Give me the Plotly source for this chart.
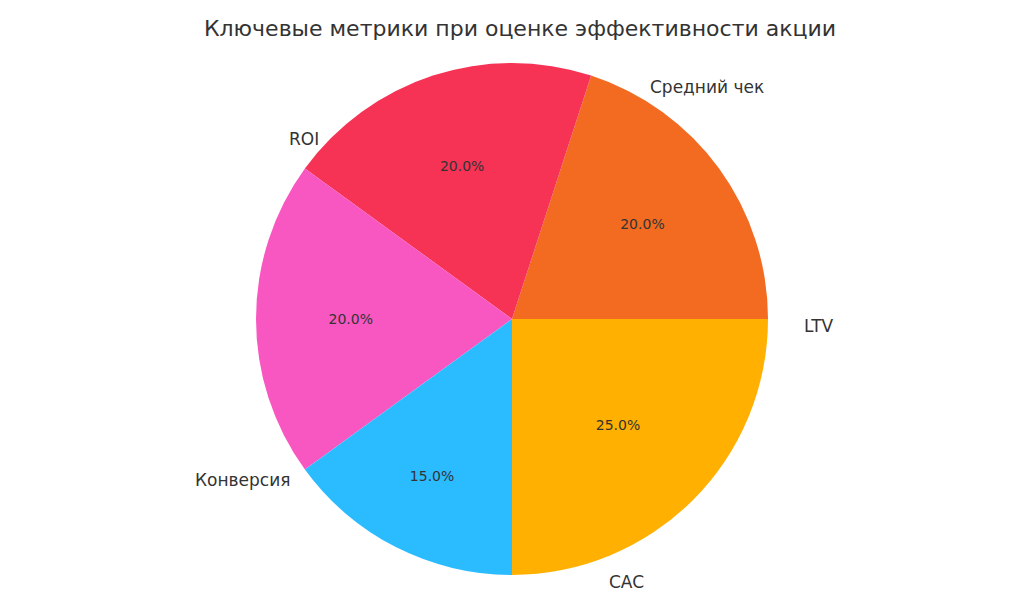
import math
import plotly.graph_objects as go

labels = ["ROI", "Конверсия", "CAC", "LTV", "Средний чек"]
values = [25, 20, 20, 20, 15]
colors = ["#FFB000", "#F26B21", "#F63255", "#F857C1", "#2BBCFF"]

W, H = 1024, 611
cx, cy, r = 512, 318, 256
# plotly renders the pie a few px right/down of the domain centre; compensate
px, py = cx - 8, cy - 7
y0, y1 = 1 - (py + r) / H, 1 - (py - r) / H

fig = go.Figure(go.Pie(
    labels=labels, values=values, sort=False, direction="counterclockwise",
    rotation=90, marker=dict(colors=colors), textinfo="percent",
    texttemplate="%{percent:.1%}", textposition="inside", insidetextorientation="horizontal",
    textfont=dict(size=14, color="#333333"), showlegend=False, hoverinfo="label+percent",
    domain=dict(x=[(px - r) / W, (px + r) / W], y=[y0, y1]),
))

# outer labels at 1.1 radius, placed from the cumulative angles of the values
total = sum(values)
start = 90.0
for lab, v in zip(labels, values):
    mid = math.radians(start + 360 * v / total / 2)
    start += 360 * v / total
    dx, dy = 1.1 * r * math.cos(mid), 1.1 * r * math.sin(mid)
    fig.add_annotation(x=(cx + dx) / W, y=1 - (cy - dy) / H, xref="paper", yref="paper",
                       text=lab, showarrow=False, font=dict(size=17, color="#333333"),
                       xanchor="right" if dx < -1 else ("left" if dx > 1 else "center"))

fig.update_layout(
    width=W, height=H, margin=dict(l=0, r=0, t=0, b=0),
    paper_bgcolor="white", font=dict(family="DejaVu Sans"),
    title=dict(text="Ключевые метрики при оценке эффективности акции", x=0.5, y=1 - 20 / H,
               xanchor="center", yanchor="middle", font=dict(size=22, color="#333333")),
)
fig.write_html("out.html")
